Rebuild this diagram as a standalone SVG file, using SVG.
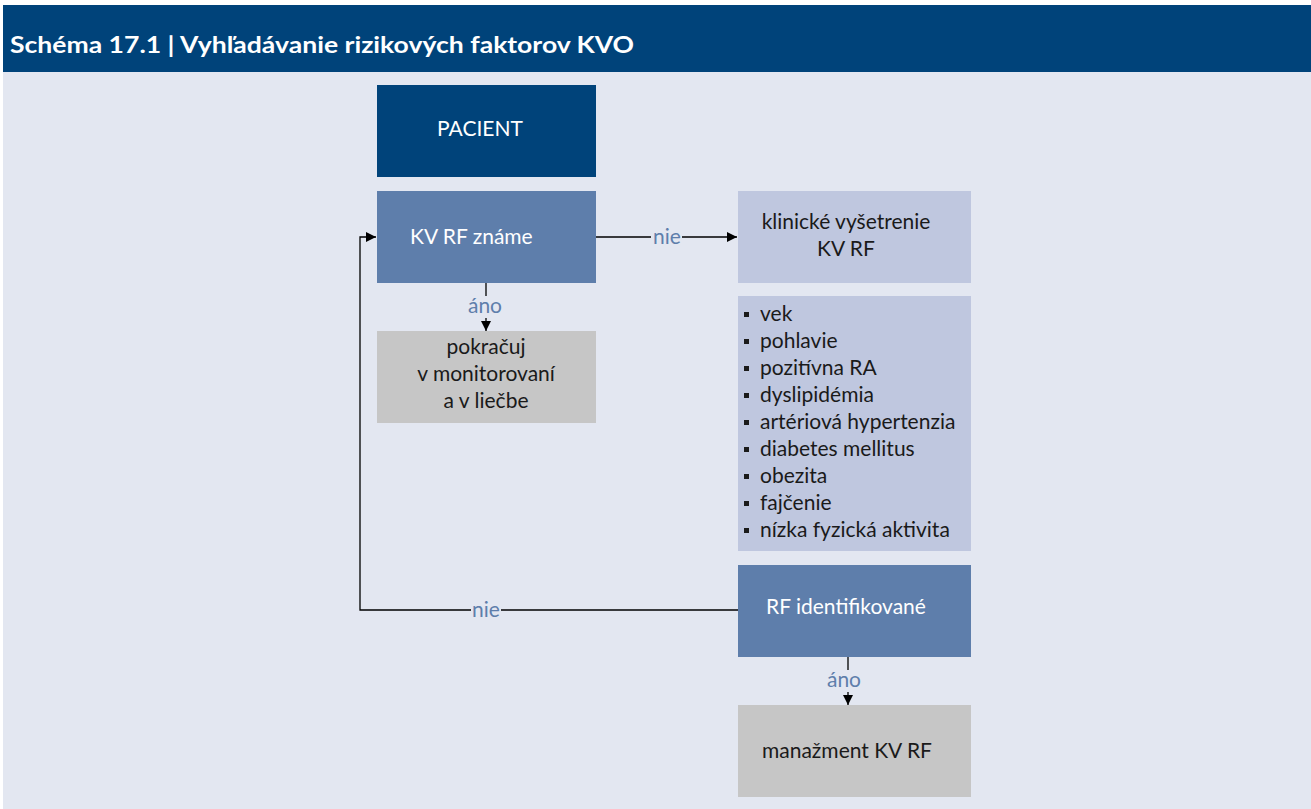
<svg xmlns="http://www.w3.org/2000/svg" width="1311" height="809" viewBox="0 0 1311 809">
<defs>
<style>
.t{font-family:Lato,"Noto Sans","Liberation Sans",sans-serif;font-size:21px}
.w{fill:#ffffff}
.k{fill:#1a1a1a}
.lbl{font-family:Lato,"Noto Sans","Liberation Sans",sans-serif;font-size:21px;fill:#5E7EAB;text-anchor:middle}
.c{text-anchor:middle}
.ln{fill:none;stroke:#000;stroke-width:1.3}
.b{fill:#1a1a1a}
</style>
<marker id="ah" viewBox="0 0 10 10" refX="10" refY="5" markerWidth="10" markerHeight="10" markerUnits="userSpaceOnUse" orient="auto">
<path d="M0,0 L10,5 L0,10 z" fill="#000"/>
</marker>
</defs>
<rect x="0" y="0" width="1311" height="809" fill="#ffffff"/>
<rect x="3" y="72" width="1308" height="737" fill="#E3E7F1"/>
<g id="header">
<rect x="3" y="5" width="1308" height="67" fill="#00437A"/>
<text x="10" y="53" font-family="Lato,'Noto Sans','Liberation Sans',sans-serif" font-size="23" font-weight="bold" fill="#ffffff" textLength="624" lengthAdjust="spacingAndGlyphs">Schéma 17.1 | Vyhľadávanie rizikových faktorov KVO</text>
</g>
<g id="connectors">
<line class="ln" x1="596" y1="237" x2="651" y2="237"/>
<line class="ln" x1="682" y1="237" x2="737" y2="237" marker-end="url(#ah)"/>
<text class="lbl" x="667" y="244">nie</text>
<line class="ln" x1="486" y1="283" x2="486" y2="296"/>
<text class="lbl" x="485" y="313">áno</text>
<line class="ln" x1="486" y1="318" x2="486" y2="331" marker-end="url(#ah)"/>
<polyline class="ln" points="738,610 501,610"/>
<polyline class="ln" points="471,610 360,610 360,237 376,237" marker-end="url(#ah)"/>
<text class="lbl" x="486" y="617">nie</text>
<line class="ln" x1="848" y1="657" x2="848" y2="670"/>
<text class="lbl" x="844" y="687">áno</text>
<line class="ln" x1="848" y1="692" x2="848" y2="705" marker-end="url(#ah)"/>
</g>
<g id="pacient">
<rect x="377" y="85" width="219" height="92" fill="#00437A"/>
<text class="t w c" x="480" y="136">PACIENT</text>
</g>
<g id="kvrf">
<rect x="377" y="191" width="219" height="92" fill="#5E7EAB"/>
<text class="t w" x="410" y="244">KV RF známe</text>
</g>
<g id="pokracuj">
<rect x="377" y="331" width="219" height="92" fill="#C6C6C6"/>
<text class="t k c" x="486" y="354">pokračuj</text>
<text class="t k c" x="486" y="381">v monitorovaní</text>
<text class="t k c" x="486" y="408">a v liečbe</text>
</g>
<g id="klinicke">
<rect x="738" y="191" width="233" height="92" fill="#BFC7DF"/>
<text class="t k c" x="846" y="229">klinické vyšetrenie</text>
<text class="t k c" x="846" y="256">KV RF</text>
</g>
<g id="zoznam">
<rect x="738" y="296" width="233" height="255" fill="#BFC7DF"/>
<g>
<rect class="b" x="744" y="312" width="5" height="5"/>
<rect class="b" x="744" y="339" width="5" height="5"/>
<rect class="b" x="744" y="366" width="5" height="5"/>
<rect class="b" x="744" y="393" width="5" height="5"/>
<rect class="b" x="744" y="420" width="5" height="5"/>
<rect class="b" x="744" y="447" width="5" height="5"/>
<rect class="b" x="744" y="474" width="5" height="5"/>
<rect class="b" x="744" y="501" width="5" height="5"/>
<rect class="b" x="744" y="528" width="5" height="5"/>
</g>
<g class="t k">
<text x="760" y="321">vek</text>
<text x="760" y="348">pohlavie</text>
<text x="760" y="375">pozitívna RA</text>
<text x="760" y="402">dyslipidémia</text>
<text x="760" y="429">artériová hypertenzia</text>
<text x="760" y="456">diabetes mellitus</text>
<text x="760" y="483">obezita</text>
<text x="760" y="510">fajčenie</text>
<text x="760" y="537">nízka fyzická aktivita</text>
</g>
</g>
<g id="rfident">
<rect x="738" y="565" width="233" height="92" fill="#5E7EAB"/>
<text class="t w" x="766" y="614">RF identifikované</text>
</g>
<g id="manazment">
<rect x="738" y="705" width="233" height="92" fill="#C6C6C6"/>
<text class="t k" x="762" y="758">manažment KV RF</text>
</g>
</svg>
